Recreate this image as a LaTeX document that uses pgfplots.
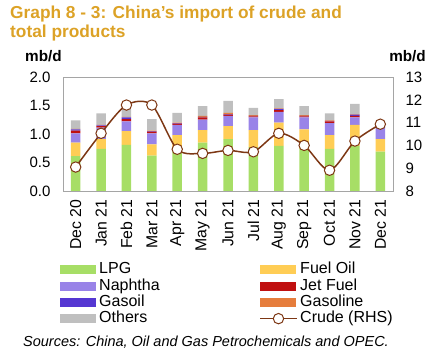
\documentclass[border=0pt]{standalone}
\usepackage{pgfplots}
\pgfplotsset{compat=1.18}
\usepackage{pgfplotstable}
\usepackage{fontspec}
\setmainfont{Liberation Sans}
\definecolor{titlecol}{RGB}{220,162,38}
\definecolor{lpg}{RGB}{167,222,102}
\definecolor{fo}{RGB}{255,205,85}
\definecolor{nap}{RGB}{153,131,232}
\definecolor{jet}{RGB}{192,16,16}
\definecolor{gasoil}{RGB}{85,55,210}
\definecolor{gasoline}{RGB}{230,125,60}
\definecolor{oth}{RGB}{191,191,191}
\definecolor{crude}{RGB}{125,55,20}
\definecolor{framecol}{RGB}{165,165,165}

\pgfplotstableread{
x lpg fo nap jet gasoil gasoline oth
0 0.61 0.24 0.16 0.05 0.02 0.01 0.15
1 0.74 0.17 0.20 0.03 0.01 0.01 0.20
2 0.81 0.24 0.17 0.04 0.03 0.01 0.14
3 0.62 0.20 0.19 0.03 0.01 0.01 0.20
4 0.76 0.22 0.18 0.02 0.01 0.01 0.17
5 0.85 0.22 0.18 0.04 0.01 0.02 0.17
6 0.91 0.23 0.18 0.02 0.01 0.02 0.21
7 0.77 0.30 0.22 0.02 0.01 0.01 0.13
8 0.79 0.41 0.19 0.03 0.02 0.01 0.16
9 0.74 0.34 0.21 0.02 0.01 0.01 0.16
10 0.74 0.24 0.21 0.03 0.01 0.01 0.12
11 0.79 0.37 0.13 0.03 0.02 0.01 0.18
12 0.69 0.22 0.20 0.00 0.01 0.00 0.02
}\bars

\pgfplotstableread{
x crude
0 9.05
1 10.53
2 11.77
3 11.77
4 9.83
5 9.65
6 9.78
7 9.72
8 10.53
9 10.00
10 8.91
11 10.19
12 10.93
}\crudetab

\pgfplotsset{
  barleg/.style={legend image code/.code={\fill[##1, draw=none] (0bp,-4.5bp) rectangle (36bp,4.5bp);}},
  crudeleg/.style={legend image code/.code={\draw[mark repeat=2,mark phase=2,##1] plot coordinates {(0bp,0bp) (18bp,0bp) (36bp,0bp)};}},
  common/.style={
    at={(63bp,166bp)}, anchor=south west,
    scale only axis, width=330bp, height=114bp,
    xmin=-0.5, xmax=12.5,
    major tick length=0pt,
    /pgf/number format/assume math mode=true,
    tick label style={font=\fontsize{15bp}{18bp}\selectfont},
  }
}

\begin{document}
\begin{tikzpicture}
\path[use as bounding box] (0bp,0bp) rectangle (443bp,357bp);
\node[anchor=base west, inner sep=0pt, text=titlecol, font=\fontsize{17.3bp}{20bp}\selectfont\bfseries] at (10bp,338.7bp) {Graph 8 - 3: China’s import of crude and};
\node[anchor=base west, inner sep=0pt, text=titlecol, font=\fontsize{17.3bp}{20bp}\selectfont\bfseries] at (10bp,319.7bp) {total products};
\node[anchor=base west, inner sep=0pt, font=\fontsize{15.3bp}{18bp}\selectfont\bfseries] at (25bp,295.5bp) {mb/d};
\node[anchor=base east, inner sep=0pt, font=\fontsize{15.3bp}{18bp}\selectfont\bfseries] at (426bp,295.5bp) {mb/d};
\node[anchor=base west, inner sep=0pt, font=\fontsize{14.5bp}{17bp}\selectfont\itshape] at (23bp,10.5bp) {Sources: China, Oil and Gas Petrochemicals and OPEC.};

\begin{axis}[common,
  ybar stacked, bar width=9.5bp,
  ymin=0, ymax=2, ytick={0,0.5,1,1.5,2},
  yticklabel style={/pgf/number format/fixed, /pgf/number format/fixed zerofill, /pgf/number format/precision=1, xshift=-9bp},
  xtick={0,...,12},
  xticklabels={Dec 20,Jan 21,Feb 21,Mar 21,Apr 21,May 21,Jun 21,Jul 21,Aug 21,Sep 21,Oct 21,Nov 21,Dec 21},
  xticklabel style={rotate=90, anchor=east, font=\fontsize{15.8bp}{18bp}\selectfont},
  xticklabel shift=5bp,
  axis line style={framecol, line width=0.8bp},
]
\addplot[fill=lpg, draw=none] table[x=x,y=lpg]{\bars};
\addplot[fill=fo, draw=none] table[x=x,y=fo]{\bars};
\addplot[fill=nap, draw=none] table[x=x,y=nap]{\bars};
\addplot[fill=jet, draw=none] table[x=x,y=jet]{\bars};
\addplot[fill=gasoil, draw=none] table[x=x,y=gasoil]{\bars};
\addplot[fill=gasoline, draw=none] table[x=x,y=gasoline]{\bars};
\addplot[fill=oth, draw=none] table[x=x,y=oth]{\bars};
\end{axis}

\begin{axis}[common,
  ymin=8, ymax=13, ytick={8,9,10,11,12,13},
  axis x line=none,
  axis y line*=right,
  y axis line style={draw=none},
  yticklabel style={xshift=9bp},
  legend columns=2,
  legend cell align=left,
  legend style={at={(-0.018,-0.60)}, anchor=north west, draw=none, fill=none,
    font=\fontsize{16bp}{18bp}\selectfont,
    nodes={inner sep=1bp, text height=11.3bp, text depth=3bp},
    row sep=0bp,
    /tikz/every odd column/.append style={column sep=2bp},
    /tikz/every even column/.append style={column sep=99bp}},
]
\addlegendimage{barleg, fill=lpg}
\addlegendimage{barleg, fill=fo}
\addlegendimage{barleg, fill=nap}
\addlegendimage{barleg, fill=jet}
\addlegendimage{barleg, fill=gasoil}
\addlegendimage{barleg, fill=gasoline}
\addlegendimage{barleg, fill=oth}
\addplot[crude, line width=1.5bp, smooth, mark=*, mark size=5.2bp,
  mark options={fill=white, draw=crude, line width=1bp}, crudeleg]
  table[x=x,y=crude]{\crudetab};
\legend{LPG, Fuel Oil, Naphtha, Jet Fuel, Gasoil, Gasoline, Others, Crude (RHS)}
\end{axis}
\end{tikzpicture}
\end{document}
